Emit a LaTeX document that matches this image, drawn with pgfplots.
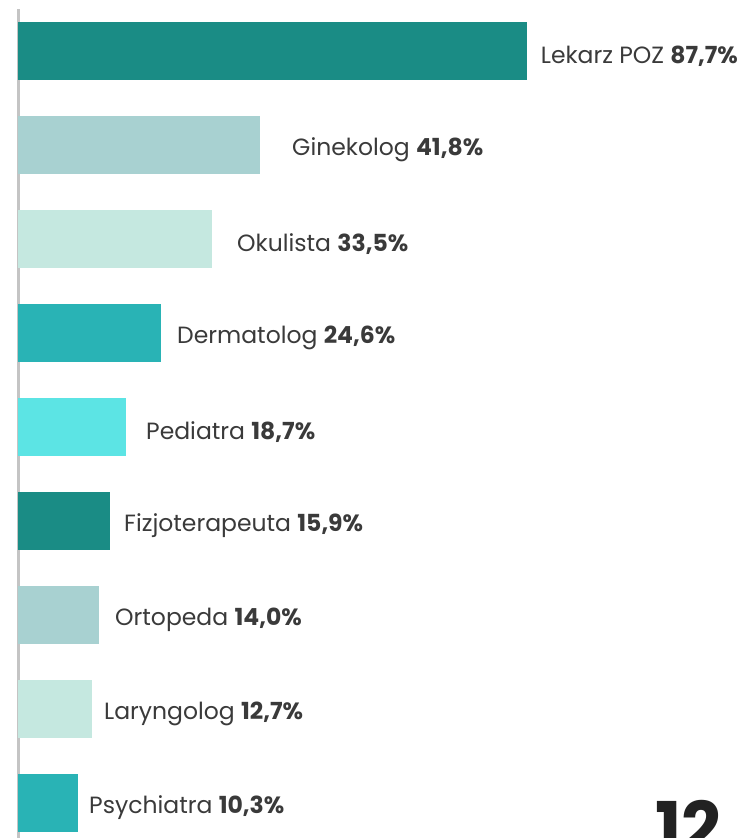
\documentclass[border=0pt]{standalone}
\usepackage{pgfplots}
\pgfplotsset{compat=1.18}
\usepackage{fontspec}
\setmainfont{Poppins}
\definecolor{cA}{HTML}{1A8C85}
\definecolor{cB}{HTML}{A8D1D1}
\definecolor{cC}{HTML}{C5E8E0}
\definecolor{cD}{HTML}{29B3B5}
\definecolor{cE}{HTML}{5CE4E4}
\definecolor{axisgray}{HTML}{C4C4C4}
\definecolor{labelgray}{HTML}{3A3A3A}
\definecolor{numgray}{HTML}{222222}
\begin{document}
\begin{tikzpicture}[x=1pt,y=1pt]
\useasboundingbox (0,0) rectangle (754,838);
\begin{axis}[
  at={(18pt,-12pt)}, anchor=south west,
  scale only axis, width=580pt, height=841.3pt,
  xmin=0, xmax=100, ymin=-0.5, ymax=8.45,
  xbar, bar width=58pt, bar shift=0pt,
  axis x line=none, axis y line=left,
  axis line style={-, draw=axisgray, line width=3pt},
  xtick=\empty, ytick=\empty,
  every node near coord/.append style={anchor=west, inner sep=0pt, yshift=-5pt,
     font=\fontsize{23.5}{28}\selectfont, text=labelgray},
]
\addplot[fill=cA, draw=none, nodes near coords={Lekarz POZ \textbf{87,7\%}},
  every node near coord/.append style={xshift=14pt}] coordinates {(87.7,8)};
\addplot[fill=cB, draw=none, nodes near coords={Ginekolog \textbf{41,8\%}},
  every node near coord/.append style={xshift=31.6pt}] coordinates {(41.8,7)};
\addplot[fill=cC, draw=none, nodes near coords={Okulista \textbf{33,5\%}},
  every node near coord/.append style={xshift=24.7pt}] coordinates {(33.5,6)};
\addplot[fill=cD, draw=none, nodes near coords={Dermatolog \textbf{24,6\%}},
  every node near coord/.append style={xshift=16.3pt}] coordinates {(24.6,5)};
\addplot[fill=cE, draw=none, nodes near coords={Pediatra \textbf{18,7\%}},
  every node near coord/.append style={xshift=19.5pt}] coordinates {(18.7,4)};
\addplot[fill=cA, draw=none, nodes near coords={Fizjoterapeuta \textbf{15,9\%}},
  every node near coord/.append style={xshift=13.8pt}] coordinates {(15.9,3)};
\addplot[fill=cB, draw=none, nodes near coords={Ortopeda \textbf{14,0\%}},
  every node near coord/.append style={xshift=15.8pt}] coordinates {(14.0,2)};
\addplot[fill=cC, draw=none, nodes near coords={Laryngolog \textbf{12,7\%}},
  every node near coord/.append style={xshift=12.3pt}] coordinates {(12.7,1)};
\addplot[fill=cD, draw=none, nodes near coords={Psychiatra \textbf{10,3\%}},
  every node near coord/.append style={xshift=11.3pt}] coordinates {(10.3,0)};
\end{axis}
\node[anchor=base west, inner sep=0pt, text=numgray,
  font=\fontsize{70}{70}\selectfont\bfseries] at (655,-14) {12};
\end{tikzpicture}
\end{document}
